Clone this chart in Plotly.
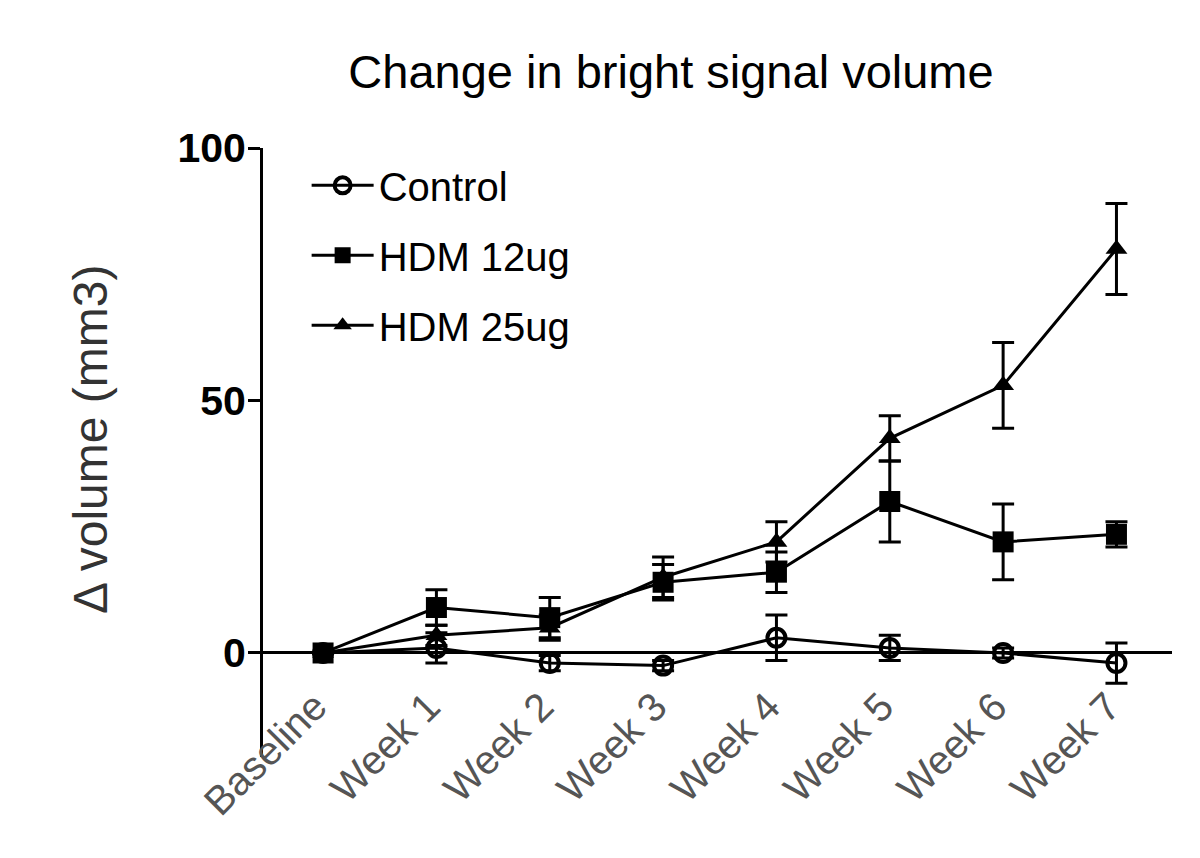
import plotly.graph_objects as go

categories = ["Baseline", "Week 1", "Week 2", "Week 3", "Week 4", "Week 5", "Week 6", "Week 7"]
control = [0, 1, -2, -2.5, 3, 1, 0, -2]
control_err = [0, 3, 1.5, 1, 4.5, 2.5, 1, 4]
hdm12 = [0, 9, 7, 14, 16, 30, 22, 23.5]
hdm12_err = [0, 3.5, 4, 3.5, 4, 8, 7.5, 2.5]
hdm25 = [0, 3.5, 5, 15, 22, 42.5, 53, 80]
hdm25_err = [0, 2, 2.5, 4, 4, 4.5, 8.5, 9]

y_ticks = [0, 50, 100]
y_ticktext = ["0", "50", "100"]

x = list(range(len(categories)))

fig = go.Figure()

def add(name, vals, errs, symbol, size, group):
    fig.add_trace(go.Scatter(
        x=x, y=vals, name=name, mode="lines+markers", legendgroup=group,
        line=dict(color="black", width=3),
        marker=dict(symbol=symbol, size=size, color="black",
                    line=dict(color="black", width=4 if "open" in symbol else 0)),
        error_y=dict(type="data", array=errs, visible=True, color="black",
                     thickness=3, width=11),
    ))

add("Control", control, control_err, "circle-open", 18, "a")
add("HDM 12ug", hdm12, hdm12_err, "square", 21, "b")
add("HDM 25ug", hdm25, hdm25_err, "triangle-up", 19, "c")

W, H = 1184, 842
fig.update_layout(
    width=W, height=H,
    margin=dict(l=255, r=20, t=140, b=93),
    plot_bgcolor="white", paper_bgcolor="white",
    font=dict(family="Liberation Sans, Arial, sans-serif", color="black"),
    title=dict(text="Change in bright signal volume", x=663 / W, xanchor="center",
               y=1 - 64 / H, yanchor="middle",
               font=dict(size=47, color="black")),
    showlegend=True,
    legend=dict(x=0.048, y=0.992, xanchor="left", yanchor="top",
                font=dict(size=40, color="black"), tracegroupgap=15,
                bgcolor="rgba(0,0,0,0)", itemwidth=62),
    xaxis=dict(
        range=[-0.53, 7.49], tickmode="array", tickvals=x, ticktext=categories,
        tickangle=-45, tickfont=dict(size=40, color="#555"),
        showline=False, showgrid=False, zeroline=False, ticks="",
        ticklabelstandoff=-83, ticklabelshift=-8,
    ),
    yaxis=dict(
        range=[-20.6, 100], tickmode="array", tickvals=y_ticks, ticktext=y_ticktext,
        tickfont=dict(size=41, color="black", weight="bold"),
        showline=True, linecolor="black", linewidth=3,
        ticks="outside", ticklen=12, tickwidth=2.5, tickcolor="black",
        ticklabelstandoff=-6,
        showgrid=False, zeroline=True, zerolinecolor="black", zerolinewidth=3,
    ),
    annotations=[dict(
        text="Δ volume (mm3)", textangle=-90, showarrow=False,
        xref="paper", yref="paper", x=(90 - 263) / 909, y=(757 - 440) / 609,
        xanchor="center", yanchor="middle",
        font=dict(size=48, color="#333"),
    )],
)

fig.write_html("out.html")
